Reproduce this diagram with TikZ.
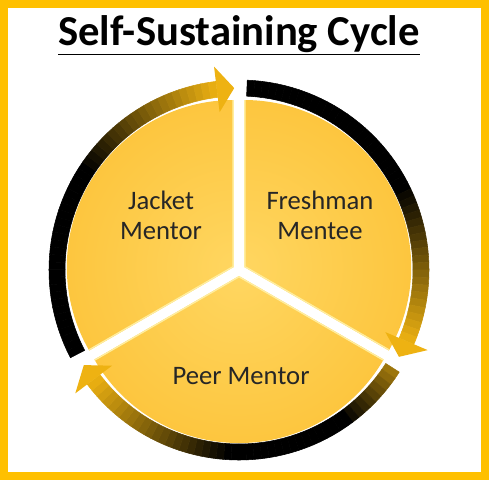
\documentclass[tikz,border=0pt]{standalone}
\usepackage{fontspec}
\setmainfont{Carlito}
\usepackage{tikz}
\usetikzlibrary{positioning}

\definecolor{framegold}{RGB}{255,192,0}
\definecolor{piegold}{RGB}{250,182,30}
\definecolor{pielight}{RGB}{255,214,96}
\definecolor{ringgold}{RGB}{238,178,18}
\definecolor{edgelight}{RGB}{255,238,160}

\tikzset{
  lbl/.style={align=center, font=\fontsize{20}{22.5}\selectfont, text=black!85},
  titlelbl/.style={font=\bfseries\fontsize{32}{36}\selectfont}
}

% one curved arrow of the ring: tail angle, head angle, tip angle, gold at tail
\newcommand{\ringarrow}[4]{%
  \foreach \k in {0,...,47}{%
    \pgfmathsetmacro\aa{#1+(#2-#1)*\k/48}%
    \pgfmathsetmacro\ab{#1+(#2-#1)*(\k+1)/48}%
    \pgfmathtruncatemacro\mix{max(0,((\k+0.5)/48-0.55)/0.45)*100+max(0,(0.2-(\k+0.5)/48)/0.2)*#4}%
    \filldraw[ringgold!\mix!black, line width=0.4pt] (\aa:174) arc[start angle=\aa, end angle=\ab, radius=174] -- (\ab:190) arc[start angle=\ab, end angle=\aa, radius=190] -- cycle;
  }
  \fill[ringgold] (#2:159) -- (#3:182) -- (#2:205) -- cycle;
}

% one slice of the pie: start, end, direction of the shift
\newcommand{\pieslice}[3]{%
  \begin{scope}[shift={(#3:6)}]
    \clip (0,0) -- (#1:167) arc[start angle=#1, end angle=#2, radius=167] -- cycle;
    \shade[inner color=pielight, outer color=piegold] (0,0) circle (330);
    \draw[edgelight, line width=2pt] (#1:167) -- (0,0) -- (#2:167);
  \end{scope}
}

\begin{document}
\begin{tikzpicture}[x=0.75pt,y=0.75pt]
\useasboundingbox (0,0) rectangle (489,480);

%Shape: Frame
\draw[framegold, line width=6pt] (4,4) rectangle (485,476);

%Title
\node[titlelbl] (title) at (239,445) {\underline{Self-Sustaining Cycle}};

\begin{scope}[shift={(239,210)}]
%Shape: Slices
\pieslice{90}{210}{150}
\pieslice{-30}{90}{30}
\pieslice{210}{330}{270}

%Shape: Arrows
\ringarrow{207.5}{97}{91.5}{0}
\ringarrow{87.5}{-23}{-28.5}{0}
\ringarrow{-32.5}{-143}{-148.5}{70}
\end{scope}

%Labels
\node[lbl] (jacket) at (161,265) {Jacket\\Mentor};
\node[lbl] (freshman) at (320,265) {Freshman\\Mentee};
\node[lbl] (peer) at (241,104) {Peer Mentor};

\end{tikzpicture}
\end{document}
